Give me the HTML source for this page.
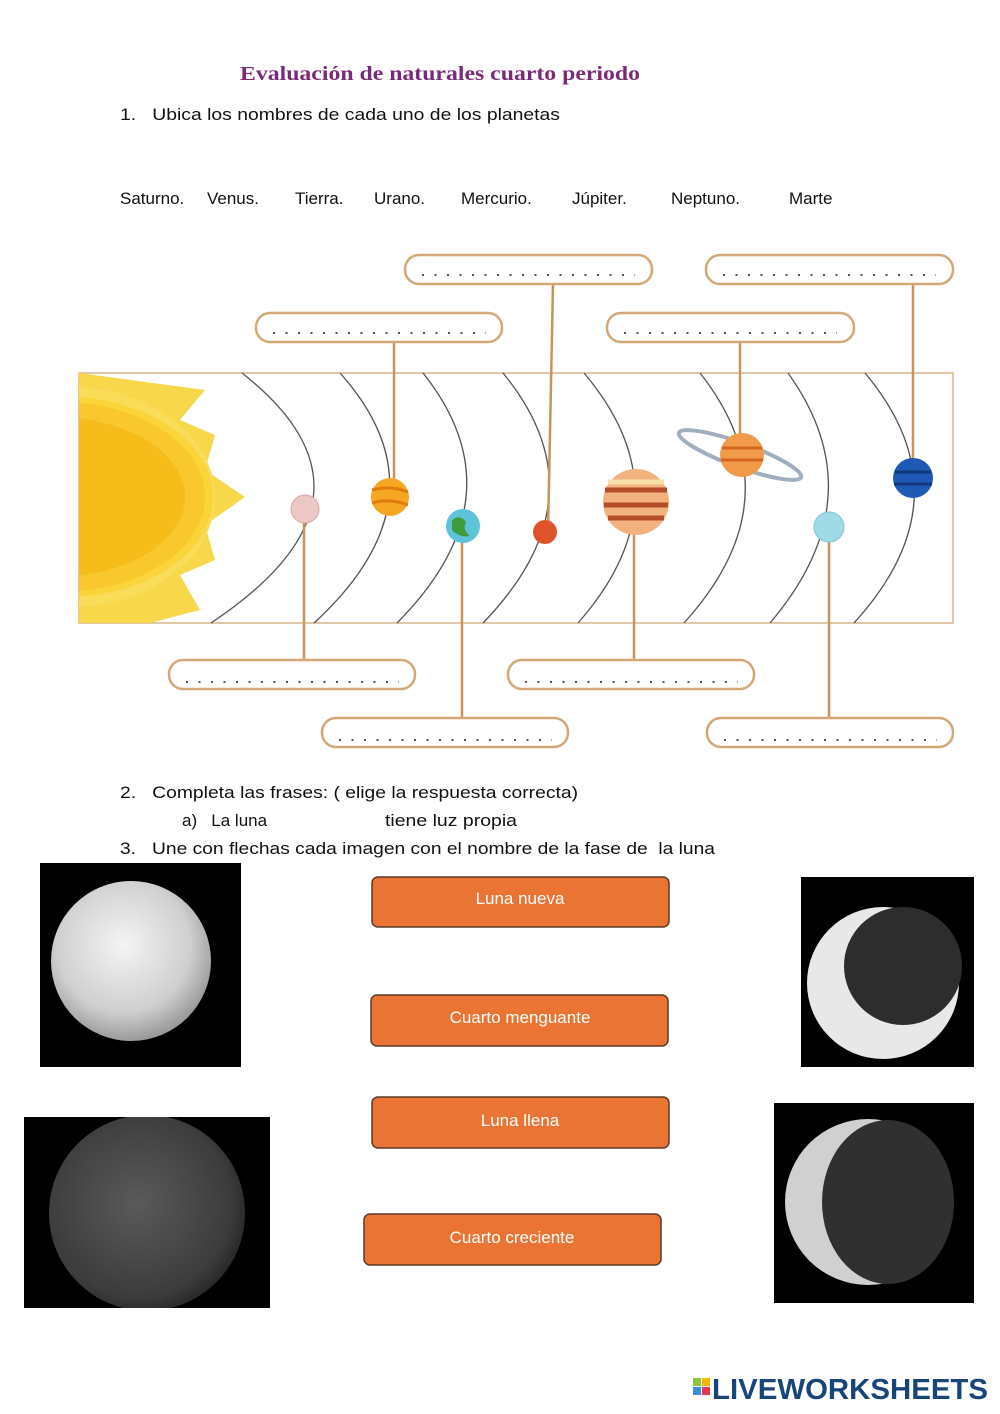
<!DOCTYPE html>
<html><head><meta charset="utf-8"><style>
html,body{margin:0;padding:0;background:#fff;}
svg{display:block;}
text{font-family:"Liberation Sans",sans-serif;}
</style></head><body>
<svg width="1000" height="1414" viewBox="0 0 1000 1414" xmlns="http://www.w3.org/2000/svg">
<defs>
<radialGradient id="fm" cx="45%" cy="40%" r="60%"><stop offset="0" stop-color="#f4f4f4"/><stop offset="0.7" stop-color="#cfcfcf"/><stop offset="1" stop-color="#9a9a9a"/></radialGradient>
<radialGradient id="nm" cx="45%" cy="45%" r="60%"><stop offset="0" stop-color="#5a5a5a"/><stop offset="0.8" stop-color="#3c3c3c"/><stop offset="1" stop-color="#222"/></radialGradient>
<clipPath id="frame"><rect x="79" y="373" width="874" height="250"/></clipPath>
<clipPath id="bl"><rect x="24" y="1117" width="246" height="191"/></clipPath>
</defs>
<text x="240" y="80" font-weight="bold" font-size="20" fill="#7b2a78" textLength="400" lengthAdjust="spacingAndGlyphs" style="font-family:'Liberation Serif',serif">Evaluación de naturales cuarto periodo</text>
<text x="120" y="120" font-size="17" fill="#111" textLength="440" lengthAdjust="spacingAndGlyphs">1.&#160;&#160; Ubica los nombres de cada uno de los planetas</text>
<g font-size="17" fill="#111">
<text x="120" y="204">Saturno.</text><text x="207" y="204">Venus.</text><text x="295" y="204">Tierra.</text><text x="374" y="204">Urano.</text><text x="461" y="204">Mercurio.</text><text x="572" y="204">Júpiter.</text><text x="671" y="204">Neptuno.</text><text x="789" y="204">Marte</text>
</g>
<rect x="79" y="373" width="874" height="250" fill="#fff" stroke="#d9b38c" stroke-width="1.5"/>
<g clip-path="url(#frame)">
<path d="M79 373 L205 390 L180 420 L215 435 L205 470 L245 497 L205 525 L215 560 L180 575 L200 610 L150 623 L79 623Z" fill="#f8d84a"/>
<ellipse cx="70" cy="497" rx="145" ry="110" fill="#f9dc57"/>
<ellipse cx="65" cy="497" rx="148" ry="100" fill="#fbd43a"/>
<ellipse cx="60" cy="497" rx="145" ry="95" fill="#f9c82c"/>
<ellipse cx="55" cy="497" rx="130" ry="80" fill="#f5bc1a"/>
</g>
<g fill="none" stroke="#555" stroke-width="1.3">
<path d="M242 373 Q400 497 211 623"/>
<path d="M340 373 Q451 497 314 623"/>
<path d="M423 373 Q522 497 397 623"/>
<path d="M503 373 Q605 497 483 623"/>
<path d="M584 373 Q689 497 578 623"/>
<path d="M700 373 Q798 497 684 623"/>
<path d="M788 373 Q877 497 770 623"/>
<path d="M865 373 Q969 497 854 623"/>
</g>
<g stroke="#c8945a" stroke-width="2.5">
<line x1="553" y1="284" x2="548" y2="532"/>
<line x1="913" y1="284" x2="913" y2="478"/>
<line x1="394" y1="342" x2="394" y2="496"/>
<line x1="740" y1="342" x2="740" y2="455"/>
<line x1="304" y1="510" x2="304" y2="659"/>
<line x1="634" y1="500" x2="634" y2="659"/>
<line x1="462" y1="525" x2="462" y2="717"/>
<line x1="829" y1="527" x2="829" y2="717"/>
</g>
<circle cx="305" cy="509" r="14" fill="#ecc8c4" stroke="#d8aaa6"/>
<circle cx="390" cy="497" r="19" fill="#f5a623"/><path d="M372 490 Q390 485 408 492 M372 503 Q390 498 408 505" stroke="#e07b10" stroke-width="3" fill="none"/>
<circle cx="463" cy="526" r="17" fill="#5cc3d9"/><path d="M452 520 q8 -6 14 2 q-4 8 4 14 q-10 2 -18 -6z" fill="#3e9a3a"/>
<circle cx="545" cy="532" r="12" fill="#e0532a"/>
<circle cx="636" cy="502" r="33" fill="#f2b27e"/><path d="M605 490 h62 M604 505 h64 M608 518 h56" stroke="#b64d2a" stroke-width="5"/><path d="M608 482 h56" stroke="#f8e0a8" stroke-width="5"/>
<ellipse cx="740" cy="455" rx="65" ry="12" transform="rotate(20 740 455)" fill="none" stroke="#a0aec0" stroke-width="4"/>
<circle cx="742" cy="455" r="22" fill="#f09a4a"/><path d="M722 448 h40 M721 460 h42" stroke="#d6651f" stroke-width="3"/>
<circle cx="829" cy="527" r="15" fill="#9fdbe6" stroke="#7cc7d4"/>
<circle cx="913" cy="478" r="20" fill="#1e59b5"/><path d="M895 472 h36 M894 484 h38" stroke="#11367a" stroke-width="3"/>
<g fill="#fff" stroke="#d4a777" stroke-width="2.5">
<rect x="405" y="255" width="247" height="29" rx="14"/>
<rect x="706" y="255" width="247" height="29" rx="14"/>
<rect x="256" y="313" width="246" height="29" rx="14"/>
<rect x="607" y="313" width="247" height="29" rx="14"/>
<rect x="169" y="660" width="246" height="29" rx="14"/>
<rect x="508" y="660" width="246" height="29" rx="14"/>
<rect x="322" y="718" width="246" height="29" rx="14"/>
<rect x="707" y="718" width="246" height="29" rx="14"/>
</g>
<g stroke="#555" stroke-width="2" stroke-dasharray="2 10.5">
<line x1="422" y1="275" x2="635" y2="275"/>
<line x1="723" y1="275" x2="936" y2="275"/>
<line x1="273" y1="333" x2="486" y2="333"/>
<line x1="624" y1="333" x2="837" y2="333"/>
<line x1="186" y1="682" x2="399" y2="682"/>
<line x1="525" y1="682" x2="738" y2="682"/>
<line x1="339" y1="740" x2="552" y2="740"/>
<line x1="724" y1="740" x2="937" y2="740"/>
</g>
<g font-size="17" fill="#111">
<text x="120" y="798" textLength="458" lengthAdjust="spacingAndGlyphs">2.&#160;&#160; Completa las frases: ( elige la respuesta correcta)</text>
<text x="182" y="826">a)&#160;&#160; La luna</text><text x="385" y="826" textLength="132" lengthAdjust="spacingAndGlyphs">tiene luz propia</text>
<text x="120" y="854" textLength="595" lengthAdjust="spacingAndGlyphs">3.&#160;&#160; Une con flechas cada imagen con el nombre de la fase de&#160; la luna</text>
</g>
<rect x="40" y="863" width="201" height="204" fill="#000"/>
<circle cx="131" cy="961" r="80" fill="url(#fm)"/>
<rect x="801" y="877" width="173" height="190" fill="#000"/>
<circle cx="883" cy="983" r="76" fill="#e8e8e8"/>
<circle cx="903" cy="966" r="59" fill="#2d2d2d"/>
<rect x="24" y="1117" width="246" height="191" fill="#000"/>
<circle cx="147" cy="1213" r="98" fill="url(#nm)" clip-path="url(#bl)"/>
<rect x="774" y="1103" width="200" height="200" fill="#000"/>
<circle cx="868" cy="1202" r="83" fill="#d0d0d0"/>
<ellipse cx="888" cy="1202" rx="66" ry="82" fill="#303030"/>
<g fill="#e97434" stroke="#5a3a2a" stroke-width="1.5">
<rect x="372" y="877" width="297" height="50" rx="6"/>
<rect x="371" y="995" width="297" height="51" rx="6"/>
<rect x="372" y="1097" width="297" height="51" rx="6"/>
<rect x="364" y="1214" width="297" height="51" rx="6"/>
</g>
<g font-size="17" fill="#fff" text-anchor="middle">
<text x="520" y="904">Luna nueva</text>
<text x="520" y="1023">Cuarto menguante</text>
<text x="520" y="1126">Luna llena</text>
<text x="512" y="1243">Cuarto creciente</text>
</g>
<rect x="693" y="1378" width="8" height="8" fill="#8cc63f"/><rect x="702" y="1378" width="8" height="8" fill="#f7b500"/>
<rect x="693" y="1387" width="8" height="8" fill="#3a8fd8"/><rect x="702" y="1387" width="8" height="8" fill="#e8384f"/>
<text x="712" y="1399" font-size="29" font-weight="bold" fill="#17457a" textLength="276" lengthAdjust="spacingAndGlyphs">LIVEWORKSHEETS</text>
</svg>
</body></html>
